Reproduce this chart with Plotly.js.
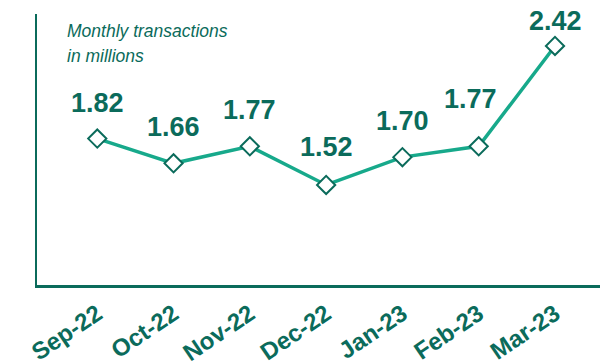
<!DOCTYPE html>
<html>
<head>
<meta charset="utf-8">
<script src="https://cdn.plot.ly/plotly-3.0.1.min.js"></script>
<style>
  html, body { margin: 0; padding: 0; background: #fff; }
  #chart { width: 600px; height: 362px; }
</style>
</head>
<body>
<div id="chart"></div>
<script>
// Monthly transactions, in millions
const months = ['Sep-22', 'Oct-22', 'Nov-22', 'Dec-22', 'Jan-23', 'Feb-23', 'Mar-23'];
const transactions = [1.82, 1.66, 1.77, 1.52, 1.70, 1.77, 2.42];

// Vertical lift of each value label above its marker (px)
const labelLift = [36, 36, 36, 38, 36, 47, 25];
const labelNudge = [0, 0, 0, 0, 0, -8, 1];

const dark = '#0b6b5b';
const lineGreen = '#17a98b';
const fontFamily = 'Liberation Sans, Arial, sans-serif';

const trace = {
  x: months.map((_, i) => i),
  y: transactions,
  type: 'scatter',
  mode: 'lines+markers',
  line: { color: lineGreen, width: 3.5 },
  marker: {
    symbol: 'diamond',
    size: 14,
    color: '#ffffff',
    line: { color: dark, width: 2 }
  },
  hoverinfo: 'skip'
};

const valueLabels = transactions.map((v, i) => ({
  x: i,
  y: v,
  xref: 'x',
  yref: 'y',
  text: v.toFixed(2),
  showarrow: false,
  yshift: labelLift[i],
  xshift: labelNudge[i],
  font: { family: fontFamily, size: 27, color: dark, weight: 'bold' }
}));

// plot area edges in pixels
const plotTop = 14, plotBottom = 285, plotLeft = 37, plotRight = 600;

// two-line italic heading inside the plot area
const headingLines = [
  { text: 'Monthly transactions', y: 31 },
  { text: 'in millions', y: 56 }
].map(t => ({
  x: (65 - plotLeft) / (plotRight - plotLeft),
  y: (plotBottom - t.y) / (plotBottom - plotTop),
  xref: 'paper',
  yref: 'paper',
  text: '<i>' + t.text + '</i>',
  showarrow: false,
  xanchor: 'left',
  yanchor: 'middle',
  font: { family: fontFamily, size: 17.5, color: dark }
}));

const layout = {
  width: 600,
  height: 362,
  margin: { l: plotLeft, r: 600 - plotRight, t: plotTop, b: 362 - plotBottom },
  paper_bgcolor: '#ffffff',
  plot_bgcolor: '#ffffff',
  showlegend: false,
  xaxis: {
    range: [-0.79, 6.59],
    tickmode: 'array',
    tickvals: months.map((_, i) => i),
    ticktext: months,
    tickangle: -34,
    ticklabelstandoff: 3,
    showgrid: false,
    zeroline: false,
    showline: true,
    linecolor: dark,
    linewidth: 2.5,
    ticks: '',
    ticklen: 0,
    tickfont: { family: fontFamily, size: 24, color: dark, weight: 'bold' },
    fixedrange: true
  },
  yaxis: {
    range: [0.872, 2.627],
    showgrid: false,
    zeroline: false,
    showline: true,
    linecolor: dark,
    linewidth: 2.5,
    showticklabels: false,
    ticks: '',
    fixedrange: true
  },
  annotations: valueLabels.concat(headingLines)
};

Plotly.newPlot('chart', [trace], layout, { displayModeBar: false, staticPlot: true });
</script>
</body>
</html>
